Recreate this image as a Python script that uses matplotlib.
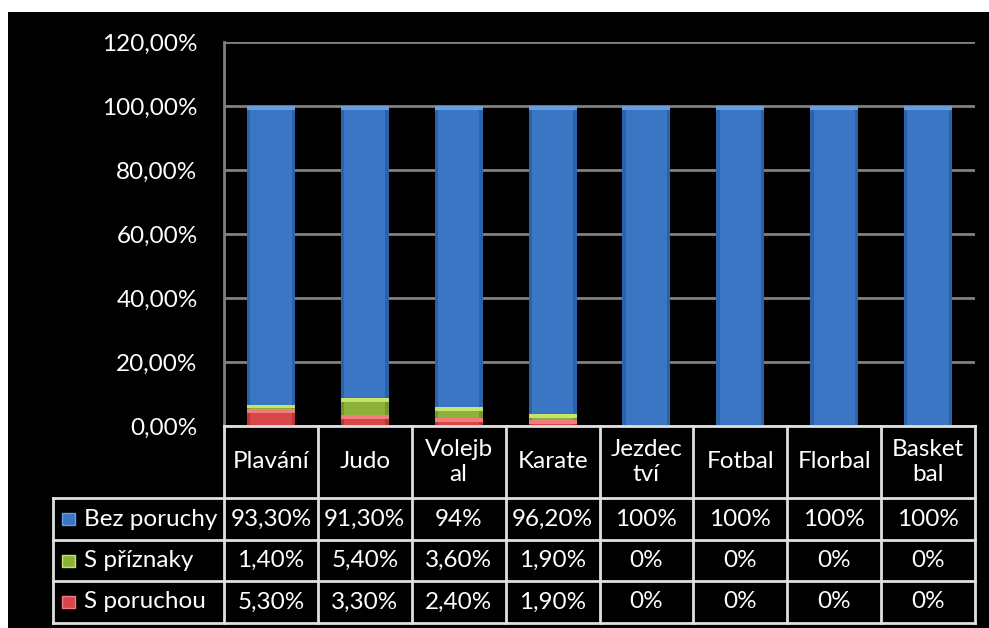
import matplotlib
matplotlib.use("Agg")
import matplotlib.pyplot as plt
from matplotlib.patches import Rectangle

plt.rcParams["font.family"] = ["Lato", "DejaVu Sans"]

# data (percent)
categories = ["Plavání", "Judo", "Volejb\nal", "Karate", "Jezdec\ntví", "Fotbal", "Florbal", "Basket\nbal"]
series_names = ["Bez poruchy", "S příznaky", "S poruchou"]
bez_poruchy = [93.3, 91.3, 94.0, 96.2, 100, 100, 100, 100]
s_priznaky = [1.4, 5.4, 3.6, 1.9, 0, 0, 0, 0]
s_poruchou = [5.3, 3.3, 2.4, 1.9, 0, 0, 0, 0]
table_text = [
    ["93,30%", "91,30%", "94%", "96,20%", "100%", "100%", "100%", "100%"],
    ["1,40%", "5,40%", "3,60%", "1,90%", "0%", "0%", "0%", "0%"],
    ["5,30%", "3,30%", "2,40%", "1,90%", "0%", "0%", "0%", "0%"],
]
yticks = [0, 20, 40, 60, 80, 100, 120]
ytick_labels = ["0,00%", "20,00%", "40,00%", "60,00%", "80,00%", "100,00%", "120,00%"]

colors = {"Bez poruchy": ("#3A76C4", "#6A9EE0", "#2E62A8"),
          "S příznaky": ("#8CB23C", "#C6E46A", "#76982E"),
          "S poruchou": ("#D8464A", "#F07C7C", "#B83638")}

W, H = 989, 628
FS = 17.5


def fr(x0, y0, x1, y1):
    return [x0 / W, 1 - y1 / H, (x1 - x0) / W, (y1 - y0) / H]


fig = plt.figure(figsize=(W / 100, H / 100), dpi=100)
fig.patch.set_facecolor("white")
fig.patches.append(Rectangle((8 / W, 0), 1, 1 - 12 / H, transform=fig.transFigure,
                             facecolor="black", edgecolor="none", zorder=-10))

# bar chart
ax = fig.add_axes(fr(224, 42, 975, 426))
ax.set_facecolor("black")
x = list(range(len(categories)))
bw = 0.51
side = 0.035
bottom = [0] * len(categories)
hl = 1.2  # highlight strip height in data units
for name, vals in zip(["S poruchou", "S příznaky", "Bez poruchy"], [s_poruchou, s_priznaky, bez_poruchy]):
    base, light, dark = colors[name]
    ax.bar(x, vals, bw, bottom=bottom, color=dark, edgecolor="none", zorder=3)
    ax.bar(x, vals, bw - 2 * side, bottom=bottom, color=base, edgecolor="none", zorder=3.5)
    tops = [b + v for b, v in zip(bottom, vals)]
    strip = [min(hl, v) for v in vals]
    ax.bar(x, strip, bw, bottom=[t - s for t, s in zip(tops, strip)], color=light,
           edgecolor="none", zorder=4)
    bottom = tops

ax.set_xlim(-0.5, len(categories) - 0.5)
ax.set_ylim(0, 120)
ax.set_yticks(yticks)
ax.set_yticklabels(ytick_labels, color="white", fontsize=FS)
ax.tick_params(axis="y", length=0, pad=19)
ax.set_xticks([])
ax.grid(axis="y", color="#808080", linewidth=2, zorder=1)
for s in ["top", "right", "bottom"]:
    ax.spines[s].set_visible(False)
ax.spines["left"].set_color("#808080")
ax.spines["left"].set_linewidth(2)

# data table
lab_w = (224 - 53) / ((975 - 224) / len(categories))
tax = fig.add_axes(fr(53, 426, 975, 623))
tax.set_xlim(-0.5 - lab_w, len(categories) - 0.5)
row_edges = [0, 72, 114, 155, 197]
tax.set_ylim(row_edges[-1], 0)
tax.axis("off")
lc = "#E0E0E0"
lw = 2
n = len(categories)
tax.plot([-0.5, n - 0.5], [0, 0], color=lc, lw=lw, clip_on=False)
for i in range(n + 1):
    tax.plot([i - 0.5, i - 0.5], [0, row_edges[-1]], color=lc, lw=lw, clip_on=False)
for y in row_edges[1:]:
    tax.plot([-0.5 - lab_w, n - 0.5], [y, y], color=lc, lw=lw, clip_on=False)
tax.plot([-0.5 - lab_w] * 2, [row_edges[1], row_edges[-1]], color=lc, lw=lw, clip_on=False)

for i, cat in enumerate(categories):
    tax.text(i, (row_edges[0] + row_edges[1]) / 2, cat, ha="center", va="center",
             color="white", fontsize=FS, linespacing=1.25)
for r, name in enumerate(series_names):
    yc = (row_edges[r + 1] + row_edges[r + 2]) / 2
    base, light, dark = colors[name]
    tax.add_patch(Rectangle((-0.5 - lab_w + 0.1, yc - 6), 0.13, 12,
                            facecolor=base, edgecolor=light, lw=1, clip_on=False))
    tax.text(-0.5 - lab_w + 0.33, yc, name, ha="left", va="center", color="white", fontsize=FS)
    for i in range(n):
        tax.text(i, yc, table_text[r][i], ha="center", va="center", color="white", fontsize=FS)

fig.savefig("out.png", dpi=100, facecolor=fig.get_facecolor())
